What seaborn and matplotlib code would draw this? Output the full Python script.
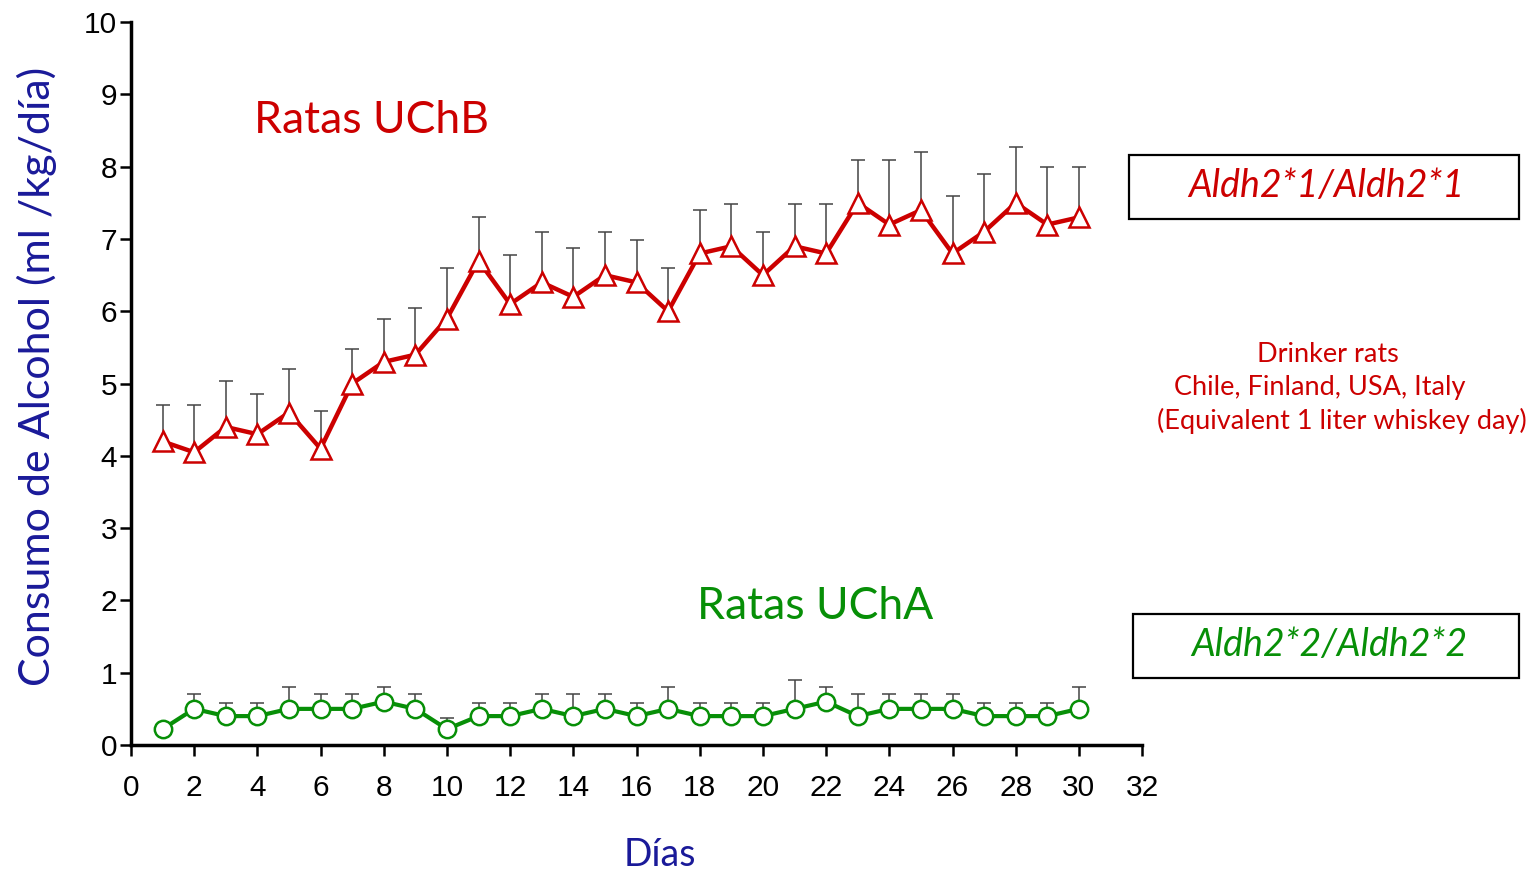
import numpy as np
import pandas as pd
import matplotlib
matplotlib.use("Agg")
import matplotlib.pyplot as plt
import seaborn as sns

# Daily alcohol intake (mean and upper error limit) for the two rat lines
days = list(range(1, 31))
uchb_mean = [4.2, 4.05, 4.4, 4.3, 4.6, 4.1, 5.0, 5.3, 5.4, 5.9,
             6.7, 6.1, 6.4, 6.2, 6.5, 6.4, 6.0, 6.8, 6.9, 6.5,
             6.9, 6.8, 7.5, 7.2, 7.4, 6.8, 7.1, 7.5, 7.2, 7.3]
uchb_upper = [4.7, 4.7, 5.03, 4.85, 5.2, 4.62, 5.48, 5.9, 6.05, 6.6,
              7.3, 6.78, 7.1, 6.88, 7.1, 6.98, 6.6, 7.4, 7.48, 7.1,
              7.48, 7.48, 8.1, 8.1, 8.2, 7.6, 7.9, 8.28, 8.0, 8.0]
ucha_mean = [0.22, 0.5, 0.4, 0.4, 0.5, 0.5, 0.5, 0.6, 0.5, 0.22,
             0.4, 0.4, 0.5, 0.4, 0.5, 0.4, 0.5, 0.4, 0.4, 0.4,
             0.5, 0.6, 0.4, 0.5, 0.5, 0.5, 0.4, 0.4, 0.4, 0.5]
ucha_upper = [0.22, 0.7, 0.58, 0.58, 0.8, 0.7, 0.7, 0.8, 0.7, 0.38,
              0.58, 0.58, 0.7, 0.7, 0.7, 0.58, 0.8, 0.58, 0.58, 0.58,
              0.9, 0.8, 0.7, 0.7, 0.7, 0.7, 0.58, 0.58, 0.58, 0.8]

x_ticks = list(range(0, 33, 2))
y_ticks = list(range(0, 11))

RED = "#cc0000"
GREEN = "#078f07"
BLUE = "#1a1a99"
HAND = ["Lato", "DejaVu Sans"]
TICKFONT = ["Liberation Sans", "DejaVu Sans"]

df = pd.DataFrame({
    "day": days * 2,
    "mean": uchb_mean + ucha_mean,
    "upper": uchb_upper + ucha_upper,
    "line": ["UChB"] * 30 + ["UChA"] * 30,
})

sns.set_style("ticks")
plt.rcParams["font.family"] = TICKFONT

fig = plt.figure(figsize=(15.39, 8.73), dpi=100)
ax = fig.add_axes([0.0851, 0.1466, 0.657, 0.828])

# upper-only error bars (lower caps hidden)
for name in ["UChB", "UChA"]:
    sub = df[df["line"] == name]
    err = sub["upper"].to_numpy() - sub["mean"].to_numpy()
    cont = ax.errorbar(sub["day"], sub["mean"],
                       yerr=[np.zeros_like(err), err],
                       fmt="none", ecolor="#444444", elinewidth=1.1,
                       capsize=5, capthick=1.1, zorder=1)
    cont.lines[1][0].set_visible(False)

sns.lineplot(data=df[df["line"] == "UChB"], x="day", y="mean", ax=ax,
             color=RED, linewidth=3.2, marker="^", markersize=15,
             markerfacecolor="white", markeredgecolor=RED,
             markeredgewidth=1.8, zorder=3, legend=False)
sns.lineplot(data=df[df["line"] == "UChA"], x="day", y="mean", ax=ax,
             color=GREEN, linewidth=3.0, marker="o", markersize=12.5,
             markerfacecolor="white", markeredgecolor=GREEN,
             markeredgewidth=1.8, zorder=3, legend=False)

ax.set_xlim(0, 32)
ax.set_ylim(0, 10)
ax.set_xticks(x_ticks)
ax.set_yticks(y_ticks)
ax.tick_params(axis="both", labelsize=21.5, width=1.8, length=8,
               color="black", labelcolor="black", direction="out")
ax.tick_params(axis="x", pad=13)
ax.tick_params(axis="y", pad=2)
for lbl in ax.get_xticklabels() + ax.get_yticklabels():
    lbl.set_family(TICKFONT)
for s in ["top", "right"]:
    ax.spines[s].set_visible(False)
for s in ["left", "bottom"]:
    ax.spines[s].set_linewidth(2.5)
    ax.spines[s].set_color("black")

ax.set_xlabel("Días", fontsize=27, color=BLUE, family=HAND)
ax.xaxis.set_label_coords((660 - 131) / 1011, -0.127)
ax.set_ylabel("Consumo de Alcohol (ml /kg/día)", fontsize=31, color=BLUE,
              family=HAND)
ax.yaxis.set_label_coords(-0.073, 0.51)

ax.text(3.9, 8.64, "Ratas UChB", fontsize=32, color=RED, family=HAND,
        ha="left", va="center")
ax.text(17.9, 1.91, "Ratas UChA", fontsize=32, color=GREEN, family=HAND,
        ha="left", va="center")

# genotype boxes and note to the right of the axes
fig.patches.append(plt.Rectangle((1129 / 1539, 1 - 219 / 873), 390 / 1539,
                                 64 / 873, transform=fig.transFigure,
                                 fill=False, edgecolor="black", linewidth=1.6))
fig.patches.append(plt.Rectangle((1133 / 1539, 1 - 678 / 873), 386 / 1539,
                                 64 / 873, transform=fig.transFigure,
                                 fill=False, edgecolor="black", linewidth=1.6))
fig.text(1326 / 1539, 1 - 186 / 873, "Aldh2*1/Aldh2*1", fontsize=27,
         color=RED, style="italic", family=HAND, ha="center", va="center")
fig.text(1329 / 1539, 1 - 645 / 873, "Aldh2*2/Aldh2*2", fontsize=27,
         color=GREEN, style="italic", family=HAND, ha="center", va="center")
fig.text(1328 / 1539, 1 - 355 / 873, "Drinker rats", fontsize=19.5,
         color=RED, family=HAND, ha="center", va="center")
fig.text(1320 / 1539, 1 - 388 / 873, "Chile, Finland, USA, Italy",
         fontsize=19.5, color=RED, family=HAND, ha="center", va="center")
fig.text(1342 / 1539, 1 - 421 / 873, "(Equivalent 1 liter whiskey day)",
         fontsize=19.5, color=RED, family=HAND, ha="center", va="center")

fig.savefig("out.png", dpi=100, facecolor="white")
